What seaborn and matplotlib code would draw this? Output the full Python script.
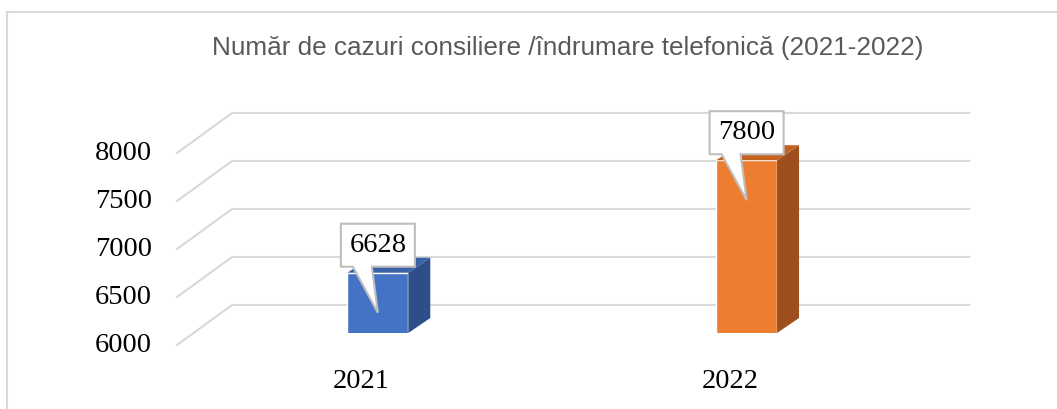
import matplotlib
matplotlib.use("Agg")
import matplotlib.pyplot as plt
import matplotlib.transforms as mtransforms
from matplotlib.patches import Polygon, Rectangle
import seaborn as sns
import pandas as pd

# data
years = ["2021", "2022"]
cases = [6628, 7800]
bar_colors = ["#4472C4", "#ED7D31"]
top_colors = ["#3A62A8", "#C6621F"]
side_colors = ["#2E4E8A", "#9E4F1E"]
y_ticks = [6000, 6500, 7000, 7500, 8000]
title = "Număr de cazuri consiliere /îndrumare telefonică (2021-2022)"

W, H = 1057, 409
DPI = 100

sns.set_style("white")
plt.rcParams["font.family"] = ["Liberation Serif", "DejaVu Serif"]

df = pd.DataFrame({"year": years, "cases": cases})

fig = plt.figure(figsize=(W / DPI, H / DPI), dpi=DPI)
# axes = the plane in which the front faces of the bars sit
ax = fig.add_axes([193.5 / W, (H - 333) / H, (931 - 193.5) / W, 192 / H])

sns.barplot(data=df, x="year", y="cases", hue="year", palette=bar_colors,
            width=0.165, saturation=1, legend=False, ax=ax, zorder=3)
ax.set_xlim(-0.5, 1.5)
ax.set_ylim(y_ticks[0], y_ticks[-1])
ax.set_xticks([])
ax.set_yticks([])
ax.set_xlabel("")
ax.set_ylabel("")
sns.despine(ax=ax, left=True, bottom=True)
ax.patch.set_alpha(0)


def px(dx, dy):
    # pixel offset -> data offset
    inv = ax.transData.inverted()
    a = inv.transform((0, 0))
    b = inv.transform((dx, dy))
    return b[0] - a[0], b[1] - a[1]


front_dx, front_dy = px(-16.5, -12)   # floor front edge
back_dx, back_dy = px(38.5, 28)       # back wall
bar_dx, bar_dy = px(22, 15)           # bar depth

grid_col = "#D9D9D9"
x0, x1 = ax.get_xlim()
for v in y_ticks:
    ax.plot([x0 + front_dx, x0 + back_dx, x1 + back_dx],
            [v + front_dy, v + back_dy, v + back_dy],
            color=grid_col, lw=1.5, clip_on=False, zorder=1)
    ax.text(x0 + front_dx, v + front_dy, str(v),
            transform=ax.transData + mtransforms.ScaledTranslation(-25 / DPI, -1 / DPI, fig.dpi_scale_trans),
            ha="right", va="center", fontsize=20.5, color="black")

for i, yr in enumerate(years):
    ax.text(i + front_dx, y_ticks[0] + front_dy, yr,
            transform=ax.transData + mtransforms.ScaledTranslation(0, -36 / DPI, fig.dpi_scale_trans),
            ha="center", va="center", fontsize=20.5, color="black")

# 3d faces + callout labels
base = y_ticks[0]
for i, p in enumerate(ax.patches):
    bx, bw, bh = p.get_x(), p.get_width(), p.get_height()
    side = Polygon([(bx + bw, base), (bx + bw, bh), (bx + bw + bar_dx, bh + bar_dy),
                    (bx + bw + bar_dx, base + bar_dy)], closed=True,
                   facecolor=side_colors[i], edgecolor="none", zorder=3)
    top = Polygon([(bx, bh), (bx + bw, bh), (bx + bw + bar_dx, bh + bar_dy),
                   (bx + bar_dx, bh + bar_dy)], closed=True,
                  facecolor=top_colors[i], edgecolor="none", zorder=3)
    ax.add_patch(side)
    ax.add_patch(top)

    cx = bx + bw / 2
    tr = fig.dpi_scale_trans + mtransforms.ScaledTranslation(cx, bh, ax.transData)
    pts = [(-37, 6), (-25, 6), (0, -40), (-6, 6), (37, 6), (37, 49), (-37, 49)]
    callout = Polygon([(a / DPI, b / DPI) for a, b in pts], closed=True, transform=tr,
                      facecolor="white", edgecolor="#BFBFBF", lw=1.5, zorder=5, clip_on=False)
    ax.add_patch(callout)
    ax.text(0, 27.5 / DPI, f"{cases[i]}", transform=tr, ha="center", va="center",
            fontsize=20.5, color="black", zorder=6)

fig.text(568 / W, 1 - 48 / H, title, ha="center", va="center", fontsize=18.8,
         color="#595959", family=["Liberation Sans", "DejaVu Sans"])

frame = Rectangle((7 / W, -0.1), 1.2, 1 - 12 / H + 0.1, transform=fig.transFigure,
                  fill=False, edgecolor="#D9D9D9", lw=1.5)
fig.add_artist(frame)

fig.savefig("out.png", dpi=DPI)
